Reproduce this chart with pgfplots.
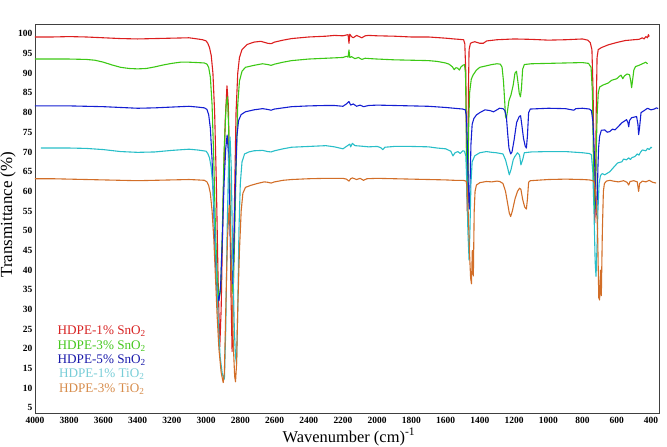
\documentclass[border=0pt]{standalone}
\usepackage{fontspec}
\setmainfont{Liberation Serif}
\usepackage{pgfplots}
\pgfplotsset{compat=1.18}
\definecolor{cred}{RGB}{220,30,30}
\definecolor{cgreen}{RGB}{60,200,20}
\definecolor{cblue}{RGB}{20,30,210}
\definecolor{ccyan}{RGB}{40,190,200}
\definecolor{corange}{RGB}{210,110,40}
\definecolor{lred}{RGB}{215,35,35}
\definecolor{lgreen}{RGB}{70,200,30}
\definecolor{lblue}{RGB}{25,25,170}
\definecolor{lcyan}{RGB}{120,205,215}
\definecolor{lorange}{RGB}{215,140,75}
\begin{document}
\begin{tikzpicture}
\useasboundingbox (-35bp,-34bp) rectangle (632bp,413bp);
\begin{axis}[
  at={(0,0)}, anchor=south west,
  scale only axis, width=624bp, height=389bp,
  x dir=reverse,
  xmin=353, xmax=4000, ymin=3.7, ymax=102.5,
  xtick={400,600,...,4000}, ytick={5,10,...,100},
  major tick length=0pt,
  /pgf/number format/1000 sep={},
  /pgf/number format/assume math mode=true,
  xticklabel style={font=\fontsize{9.5}{11}\selectfont\bfseries, inner sep=0pt, yshift=-4bp},
  yticklabel style={font=\fontsize{9.5}{11}\selectfont\bfseries, inner sep=0pt, xshift=-2.5bp},
  axis line style={draw=black!75, line width=0.7pt},
  xlabel={Wavenumber (cm)\textsuperscript{-1}},
  ylabel={Transmittance (\%)},
  xlabel style={font=\fontsize{16.5}{19}\selectfont, at={(rel axis cs:0.503,0)}, anchor=center, yshift=-24bp},
  ylabel style={font=\fontsize{17}{19}\selectfont, at={(rel axis cs:-0.043,0.51)}, anchor=center},
  every axis plot/.append style={no markers, line width=1.1pt, line join=round},
  clip=true,
]
% HDPE-1% SnO2
\addplot[cred] table {
4000 99.2
3900 99.2
3800 99.3
3700 99.2
3600 99.0
3500 98.8
3400 98.7
3300 98.8
3200 98.9
3100 99.0
3050 98.7
3020 98.5
3000 98.2
2990 97.6
2980 96.5
2970 94.5
2960 90
2950 80
2940 62
2930 38
2920 20.5
2912 30
2900 58
2888 78
2878 86.8
2870 82
2862 62
2855 35
2848 19.3
2842 30
2835 55
2825 80
2815 90
2805 94
2790 96
2760 97.3
2720 97.9
2680 98.1
2640 97.6
2620 97.5
2600 97.9
2550 98.4
2500 98.8
2400 99.2
2300 99.4
2250 99.6
2200 99.5
2180 99.7
2170 99.8
2165 97.6
2160 99.9
2150 99.3
2140 99.0
2120 99.6
2100 99.2
2090 99.0
2070 99.5
2050 99.6
2000 99.5
1900 99.4
1800 99.2
1700 99.2
1600 98.9
1550 98.7
1520 98.6
1495 98.5
1488 97.5
1482 90
1478 72
1474 55
1470 60
1467 85
1463 96
1455 97.6
1445 97.8
1430 98.0
1400 97.6
1380 97.6
1360 98.2
1300 98.5
1200 98.7
1100 98.6
1000 98.4
900 98.5
800 98.7
770 98.4
755 97.8
745 96
738 85
733 65
728 52
724 60
720 80
715 94
708 96
690 96.5
650 97.2
600 97.8
550 98.3
500 98.5
470 98.6
450 99.0
440 98.7
430 99.3
420 99.0
415 99.8
410 99.3
};
% HDPE-3% SnO2
\addplot[cgreen] table {
4000 93.6
3900 93.6
3800 93.6
3700 93.5
3650 93.3
3600 92.8
3550 92.1
3500 91.5
3450 91.2
3400 91.1
3350 91.2
3300 91.6
3250 92.1
3200 92.5
3150 92.8
3100 92.8
3050 92.7
3010 92.6
2995 92.3
2985 91.5
2975 89
2965 82
2955 68
2945 50
2935 38
2925 32.5
2915 35
2905 50
2895 70
2883 82
2875 84
2868 76
2860 55
2852 38
2843 34
2835 45
2825 65
2815 82
2805 88
2790 90.5
2770 91.5
2720 92.0
2670 92.4
2640 92.2
2620 92.0
2600 92.3
2550 92.8
2500 93.2
2400 93.6
2300 93.8
2200 94.0
2180 94.3
2170 94.1
2165 95.9
2160 94.0
2150 94.2
2130 93.7
2110 94.0
2090 93.5
2070 93.8
2040 93.7
2000 93.6
1900 93.4
1800 93.3
1700 93.2
1650 93.0
1600 92.6
1580 92.3
1560 91.6
1550 90.9
1540 91.4
1530 91.3
1520 90.8
1510 91.6
1500 92.0
1490 92.2
1484 90
1480 78
1476 62
1473 57.5
1470 62
1466 75
1460 85
1450 88.5
1440 89.5
1420 90.8
1400 91.5
1380 91.7
1360 91.9
1330 92.2
1300 92.4
1280 92.3
1270 91.5
1262 88
1255 83
1250 79
1245 78.5
1240 80
1230 83
1218 84.5
1205 87
1195 90
1186 90.5
1178 88
1170 85
1163 84
1157 86
1150 91
1140 92.2
1100 92.4
1000 92.5
900 92.6
800 92.7
765 92.5
750 91.5
742 85
737 70
732 57
728 55.5
724 57
720 70
714 80
708 85
700 86.5
680 87.0
650 87.5
630 88.2
600 88.6
585 89.2
575 89.5
565 88.6
555 89.3
540 89.8
525 89.6
518 88
513 86.3
508 88
500 90.8
490 91.7
470 92.0
450 92.4
430 92.8
420 92.4
};
% HDPE-5% SnO2
\addplot[cblue] table {
4000 81.7
3900 81.7
3800 81.7
3700 81.6
3600 81.5
3500 81.3
3400 81.1
3300 81.2
3200 81.4
3100 81.6
3050 81.4
3010 81.2
2995 80.8
2985 79.5
2975 76
2965 68
2955 55
2945 42
2935 34
2925 32.2
2915 36
2905 48
2895 62
2885 71
2877 74.3
2870 70
2862 55
2855 42
2847 36.5
2840 42
2830 60
2820 74
2810 78
2795 79.5
2770 80.2
2720 80.7
2670 81.0
2640 80.8
2620 80.6
2600 80.9
2550 81.2
2500 81.5
2400 81.7
2300 81.8
2250 81.8
2200 81.6
2180 82.2
2165 82.8
2155 81.9
2140 82.2
2120 81.6
2100 81.9
2080 81.5
2050 81.8
2000 81.9
1900 81.8
1800 81.7
1700 81.6
1600 81.3
1550 81.1
1500 80.9
1485 80.7
1478 79
1472 70
1466 58
1462 55.5
1457 62
1452 72
1445 77
1435 78.5
1420 79.4
1400 80.0
1370 80.7
1340 80.5
1320 80.2
1300 80.7
1285 81.1
1265 81.0
1255 80.6
1245 79
1238 75
1230 71
1220 69.5
1212 70
1200 73
1185 77.5
1170 79
1162 79.2
1155 77
1145 73.5
1135 71.5
1128 71
1122 74
1115 80
1105 80.9
1000 81.1
900 81.0
850 80.6
840 81.0
800 81.1
760 80.9
748 80.5
740 78
735 74
728 66
722 56
718 54
714 58
710 66
706 71
700 74
690 75.5
670 75.6
655 75.0
640 75.2
625 75.8
610 75.6
590 76.5
570 77.4
543 78.2
535 77.5
530 76.4
525 78
513 78.7
484 79
476 77
472 74.4
467 76
458 80.0
440 80.5
420 81.1
400 80.7
380 80.9
368 81.2
358 81.0
};
% HDPE-1% TiO2
\addplot[ccyan] table {
3965 71.0
3900 71.0
3800 71.0
3700 70.9
3600 70.6
3500 70.1
3400 69.9
3300 70.0
3200 70.4
3100 70.7
3050 70.5
3000 70.2
2990 69.6
2980 68.5
2970 66
2960 61
2950 52
2940 40
2930 28
2918 18
2905 13.5
2893 12.3
2885 25
2877 50
2868 68
2860 73.8
2853 66
2845 45
2835 25
2828 18
2822 16.2
2815 30
2808 50
2800 62
2790 67.5
2775 69.5
2750 70.0
2720 70.3
2670 70.4
2640 70.1
2620 70.0
2600 70.3
2550 70.8
2500 71.2
2400 71.4
2300 71.6
2250 71.3
2200 70.8
2180 71.4
2160 72.0
2155 71.3
2145 72.2
2130 71.6
2100 71.5
2050 71.3
2000 71.4
1980 71.1
1967 70.6
1955 71.2
1900 71.4
1800 71.4
1700 71.3
1650 71.0
1600 70.8
1570 70.2
1557 69.0
1545 69.8
1528 70.1
1515 69.6
1500 70.3
1490 70.2
1482 69
1476 62
1470 50
1463 42.5
1458 50
1452 62
1445 67.5
1430 69
1420 69.3
1400 69.8
1362 70.1
1330 69.9
1304 69.8
1265 69.5
1250 68
1238 66
1228 64.2
1218 65.5
1205 68
1196 68.8
1180 69.8
1168 69.2
1160 66.7
1150 68
1140 69.8
1100 70.0
1000 70.1
900 70.1
800 69.8
760 69.6
748 69.3
740 65
733 55
726 42
721 38.4
716 45
710 55
703 62
695 64
685 64.5
670 64.2
655 64.6
640 65.0
620 66
595 67.2
570 67.5
560 68.2
543 68.0
530 68.5
520 68.1
510 68.6
495 68.8
480 69.5
470 69.2
460 70.0
450 70.5
430 70.3
420 70.9
410 70.6
400 71.2
395 71.0
};
% HDPE-3% TiO2
\addplot[corange] table {
4000 63.2
3900 63.2
3800 63.1
3700 63.0
3600 62.9
3500 62.8
3400 62.7
3300 62.8
3200 62.9
3100 63.0
3050 62.9
3010 62.8
2995 62.4
2985 61.5
2975 59.5
2965 55
2955 48
2945 38
2935 28
2925 20
2912 14
2900 11.4
2893 14
2885 30
2875 48
2865 56.5
2857 50
2850 35
2840 20
2833 13
2828 11.6
2822 16
2815 30
2805 45
2795 55
2785 59.5
2770 61.0
2740 61.5
2700 62.0
2660 62.4
2640 62.3
2620 62.1
2600 62.4
2550 62.8
2500 63.0
2400 63.2
2300 63.3
2200 63.3
2180 63.1
2165 62.6
2155 63.2
2145 63.4
2120 63.0
2100 63.3
2080 62.8
2060 63.2
2000 63.3
1900 63.2
1800 63.1
1700 63.0
1600 62.9
1550 62.8
1500 62.8
1480 62.6
1472 60
1466 52
1460 44
1454 38
1449 36.5
1444 45
1438 38.5
1433 55
1428 60
1420 61.6
1400 62.2
1362 62.5
1330 62.4
1300 62.6
1284 62.5
1265 62.0
1250 60
1238 57
1228 54.5
1220 53.6
1210 55
1195 58
1180 60
1168 60.8
1160 60.5
1150 58
1138 56
1128 55.5
1122 58
1115 62.3
1105 62.7
1000 63.0
900 63.1
800 63.0
760 62.9
740 62.7
730 62.2
720 58
712 50
705 33
700 32.4
695 40
690 33.5
684 50
678 60
672 62
660 62.6
640 62.8
620 62.6
590 62.4
560 62.7
540 62.3
530 61.6
522 62.5
500 62.7
480 62.4
472 60.0
466 62.0
450 62.6
430 62.4
410 62.8
390 62.3
370 62.1
};
\node[align=center, font=\fontsize{13.2}{14.5}\selectfont, anchor=center] at (rel axis cs:0.107,0.136)
  {\textcolor{lred}{HDPE-1\% SnO\textsubscript{2}}\\
   \textcolor{lgreen}{HDPE-3\% SnO\textsubscript{2}}\\
   \textcolor{lblue}{HDPE-5\% SnO\textsubscript{2}}\\
   \textcolor{lcyan}{HDPE-1\% TiO\textsubscript{2}}\\
   \textcolor{lorange}{HDPE-3\% TiO\textsubscript{2}}};
\end{axis}
\end{tikzpicture}
\end{document}
